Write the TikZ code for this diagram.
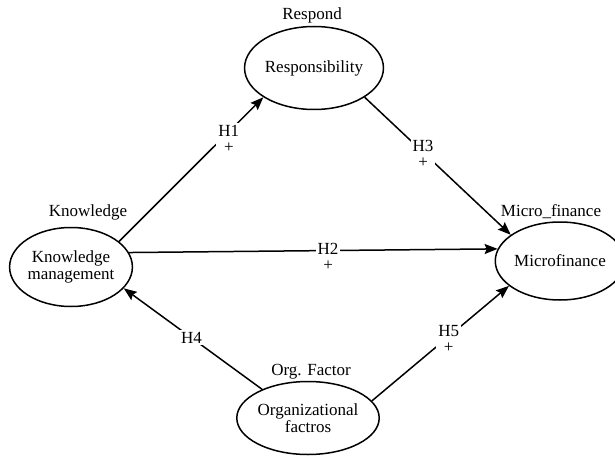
\documentclass[tikz,border=0pt]{standalone}
\usepackage{fontspec}
\setmainfont{Liberation Serif}
\usetikzlibrary{shapes.geometric,arrows.meta}
\begin{document}
\begin{tikzpicture}[x=1pt,y=-1pt,
  txt/.style={font=\fontsize{17}{15}\selectfont, inner sep=0pt},
  construct/.style={ellipse, draw, line width=1.5pt, inner sep=0pt, align=center,
    font=\fontsize{17}{17}\selectfont},
  link/.style={line width=1.5pt, -{Stealth[length=13pt,width=10pt,inset=2pt]}},
  hyp/.style={fill=white, inner sep=2pt, align=center, font=\fontsize{17}{16}\selectfont}
]
\useasboundingbox (0,0) rectangle (615,457);
% constructs
\node[construct, minimum width=118pt, minimum height=83pt] (resp) at (314,68) {Responsibility};
\node[construct, minimum width=112pt, minimum height=79pt] (km) at (71,267) {Knowledge\\management};
\node[construct, minimum width=106pt, minimum height=78pt] (mf) at (560,261) {Microfinance};
\node[construct, minimum width=113pt, minimum height=73pt] (of) at (308,418) {Organizational\\factros};
% titles
\node[txt] (tresp) at (312,15) {Respond};
\node[txt] (tkm) at (88,212) {Knowledge};
\node[txt] (tmf) at (551,212) {Micro\_finance};
\node[txt] (tof) at (311,372) {Org. Factor};
% connectors
\draw[link] (km.28) -- node[hyp, pos=0.74, xshift=3pt, yshift=-4pt] (h1) {H1\\+} (resp.210);
\draw[link] (resp.330) -- node[hyp, pos=0.4, yshift=-2pt] (h3) {H3\\+} (mf.152);
\draw[link] (km.14.5) -- node[hyp, pos=0.54, yshift=-6pt] (h2) {H2\\+} (mf.169);
\draw[link] (of.148) -- node[hyp, pos=0.51] (h4) {H4} (km.338);
\draw[link] (of.15) -- node[hyp, pos=0.56, yshift=-2pt] (h5) {H5\\+} (mf.206);
\end{tikzpicture}
\end{document}
